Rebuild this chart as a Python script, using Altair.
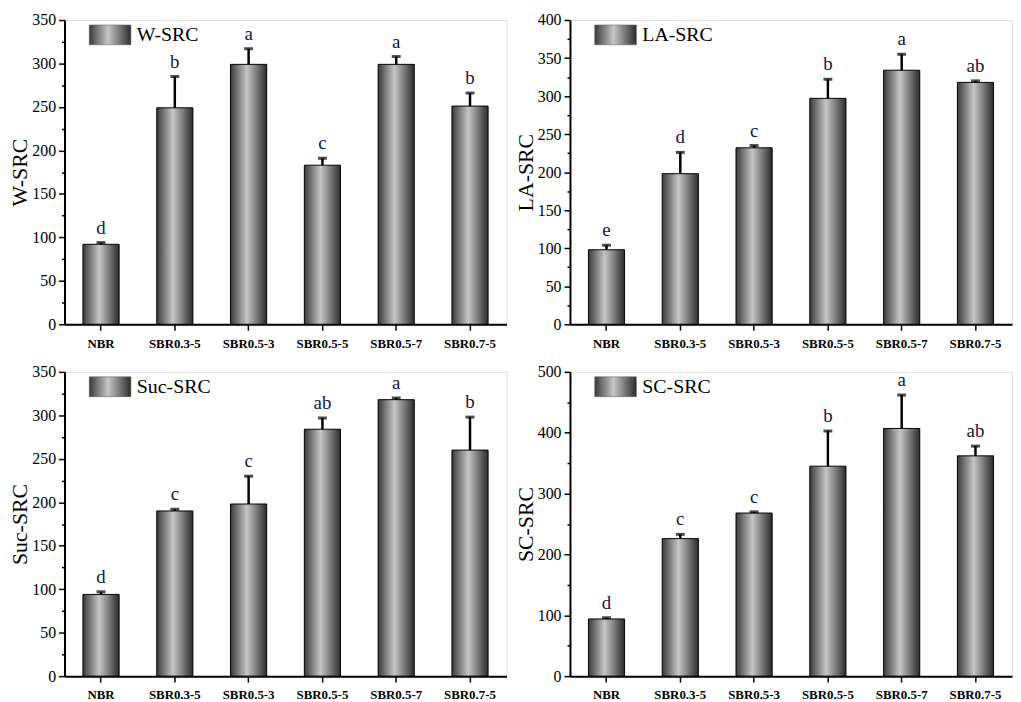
import altair as alt
import pandas as pd

categories = ["NBR", "SBR0.3-5", "SBR0.5-3", "SBR0.5-5", "SBR0.5-7", "SBR0.7-5"]

w_mean = [92, 249, 299, 183, 299, 251]
w_err = [2, 36, 18, 8, 9, 15]
w_letters = ["d", "b", "a", "c", "a", "b"]

la_mean = [98, 198, 232, 297, 334, 318]
la_err = [6, 28, 3, 25, 21, 2]
la_letters = ["e", "d", "c", "b", "a", "ab"]

suc_mean = [94, 190, 198, 284, 318, 260]
suc_err = [3, 2, 32, 13, 2, 38]
suc_letters = ["d", "c", "c", "ab", "a", "b"]

sc_mean = [94, 226, 268, 345, 407, 362]
sc_err = [2, 7, 2, 58, 55, 16]
sc_letters = ["d", "c", "c", "b", "a", "ab"]

FONT = "Liberation Serif"
W, H = 446, 307

bar_grad = alt.Gradient(
    gradient="linear", x1=0, x2=1, y1=0, y2=0,
    stops=[alt.GradientStop(offset=0, color="#3a3a3a"),
           alt.GradientStop(offset=0.45, color="#c6c6c6"),
           alt.GradientStop(offset=1, color="#2c2c2c")],
)


def panel(name, means, errs, letters, ymax, major):
    df = pd.DataFrame({"cat": categories, "mean": means, "err": errs, "letter": letters})
    df["top"] = df["mean"] + df["err"]
    minor = major // 2
    vals = list(range(0, ymax + 1, minor))
    x = alt.X("cat:N", sort=categories,
              scale=alt.Scale(paddingInner=0.51, paddingOuter=0.25),
              axis=alt.Axis(title=None, labelAngle=0, labelFont=FONT, labelFontWeight="bold",
                            labelFontSize=13, labelColor="black", tickSize=6, tickWidth=1.5,
                            tickColor="black", domainColor="black", domainWidth=2, labelPadding=7))
    yaxis = alt.Axis(title=name, titleFont=FONT, titleFontSize=22, titleFontWeight="normal",
                     titleColor="black", titlePadding=0,
                     values=vals, labelExpr=f"datum.value % {major} === 0 ? datum.label : ''",
                     labelFont=FONT, labelFontSize=16, labelColor="black", labelPadding=3,
                     tickSize={"condition": {"test": f"datum.value % {major} !== 0", "value": 3}, "value": 6},
                     tickWidth=1.5, tickColor="black", domainColor="black", domainWidth=2, grid=False)
    yscale = alt.Scale(domain=[0, ymax], nice=False)
    base = alt.Chart(df)
    bars = base.mark_bar(color=bar_grad, stroke="black", strokeWidth=1).encode(
        x=x, y=alt.Y("mean:Q", scale=yscale, axis=yaxis))
    rule = base.mark_rule(color="black", strokeWidth=2.5).encode(
        x=x, y=alt.Y("mean:Q", scale=yscale, axis=yaxis), y2="top:Q")
    cap = base.mark_tick(color="black", thickness=3, size=9).encode(
        x=x, y=alt.Y("top:Q", scale=yscale, axis=yaxis))
    txt = base.mark_text(baseline="bottom", dy=-5, font=FONT, fontSize=19, color="#14143a").encode(
        x=x, y=alt.Y("top:Q", scale=yscale, axis=yaxis), text="letter:N")
    leg = pd.DataFrame({"t": [name]})
    leg_rect = alt.Chart(leg).mark_rect(color=bar_grad, stroke="#555555", strokeWidth=0.5).encode(
        x=alt.value(25), x2=alt.value(67), y=alt.value(5), y2=alt.value(25))
    leg_text = alt.Chart(leg).mark_text(align="left", baseline="middle", font=FONT, fontSize=20,
                                        color="black").encode(
        x=alt.value(73), y=alt.value(15), text="t:N")
    return alt.layer(bars, rule, cap, txt, leg_rect, leg_text).properties(width=W, height=H)


p1 = panel("W-SRC", w_mean, w_err, w_letters, 350, 50)
p2 = panel("LA-SRC", la_mean, la_err, la_letters, 400, 50)
p3 = panel("Suc-SRC", suc_mean, suc_err, suc_letters, 350, 50)
p4 = panel("SC-SRC", sc_mean, sc_err, sc_letters, 500, 100)

chart = alt.vconcat(
    alt.hconcat(p1, p2, spacing=6),
    alt.hconcat(p3, p4, spacing=6),
    spacing=12,
).properties(padding={"left": 0, "top": 0, "right": 0, "bottom": 0}
).configure_view(stroke=None).configure(background="white")

chart.save("out.html", embed_options={"renderer": "svg", "actions": False})
